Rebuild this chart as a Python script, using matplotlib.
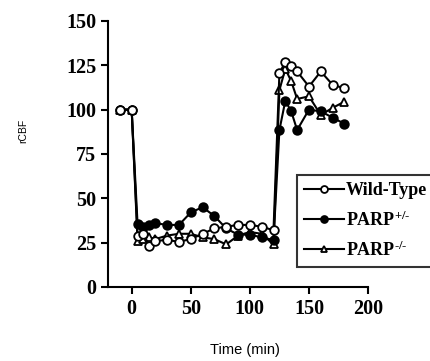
import matplotlib
matplotlib.use('Agg')
import matplotlib.pyplot as plt

# time points (min)
time = [-10, 0, 5, 10, 15, 20, 30, 40, 50, 60, 70, 80, 90, 100, 110, 120,
        125, 130, 135, 140, 150, 160, 170, 180]

# rCBF values
wild_type = [100, 100, 29, 30, 23, 26, 26.5, 25.5, 27, 30, 33, 34, 35, 35, 34, 32,
             120.5, 127, 124.5, 121.5, 113, 121.5, 114, 112]
parp_het = [100, 100, 35.5, 34, 35, 36, 35, 35, 42, 45, 40, 33, 29.5, 29.5, 28, 26.5,
            88.5, 105, 99, 88.5, 100, 99, 95.5, 92]
parp_ko = [100, 100, 26, 27, 28, 27, 29, 30, 30, 28, 27, 24, 29, 31, 30, 24,
           111, 123, 116, 106, 107.5, 97, 101, 104.5]

labels = ['Wild-Type', r'PARP$^{+/\text{-}}$', r'PARP$^{\text{-}/\text{-}}$']

plt.rcParams['mathtext.fontset'] = 'custom'
plt.rcParams['mathtext.rm'] = 'Liberation Serif:bold'
plt.rcParams['mathtext.it'] = 'Liberation Serif:bold'
plt.rcParams['mathtext.bf'] = 'Liberation Serif:bold'
plt.rcParams['mathtext.default'] = 'rm'

fig = plt.figure(figsize=(4.31, 3.61), dpi=100)
ax = fig.add_axes([0.2506, 0.205, 0.6034, 0.737])

ms = 6.2
ax.plot(time, parp_ko, '-^', color='black', lw=1.5, ms=ms, mfc='white',
        mec='black', mew=1.3, label=labels[2], clip_on=False, zorder=3)
ax.plot(time, parp_het, '-o', color='black', lw=1.5, ms=ms, mfc='black',
        mec='black', mew=1.3, label=labels[1], clip_on=False, zorder=4)
ax.plot(time, wild_type, '-o', color='black', lw=1.5, ms=ms, mfc='white',
        mec='black', mew=1.3, label=labels[0], clip_on=False, zorder=5)

ax.set_xlim(-20, 200)
ax.set_ylim(0, 150)
ax.set_xticks([0, 50, 100, 150, 200])
ax.set_yticks([0, 25, 50, 75, 100, 125, 150])

for s in ['top', 'right']:
    ax.spines[s].set_visible(False)
for s in ['left', 'bottom']:
    ax.spines[s].set_linewidth(1.5)
ax.tick_params(direction='out', length=5, width=1.5, pad=3.4)
for t in ax.get_xticklabels() + ax.get_yticklabels():
    t.set_fontfamily('Liberation Serif')
    t.set_fontweight('bold')
    t.set_fontsize(14.5)

fig.text(23 / 431, 1 - 131 / 361, 'rCBF', rotation=90, ha='center', va='center',
         fontsize=7.5, family='Liberation Sans')
fig.text(245 / 431, 1 - 350 / 361, 'Time (min)', ha='center', va='center',
         fontsize=10.5, family='Liberation Sans')

h, l = ax.get_legend_handles_labels()
leg = fig.legend(h[::-1], l[::-1], loc='upper left', bbox_to_anchor=(0.689, 0.515),
                 frameon=True, fancybox=False, edgecolor='black', borderaxespad=0,
                 handlelength=2.2, labelspacing=0.6, handletextpad=0.1, markerscale=0.8,
                 borderpad=0.4, prop={'family': 'Liberation Serif', 'weight': 'bold', 'size': 13})
leg.get_frame().set_linewidth(1.5)

fig.savefig('out.png', dpi=100)
